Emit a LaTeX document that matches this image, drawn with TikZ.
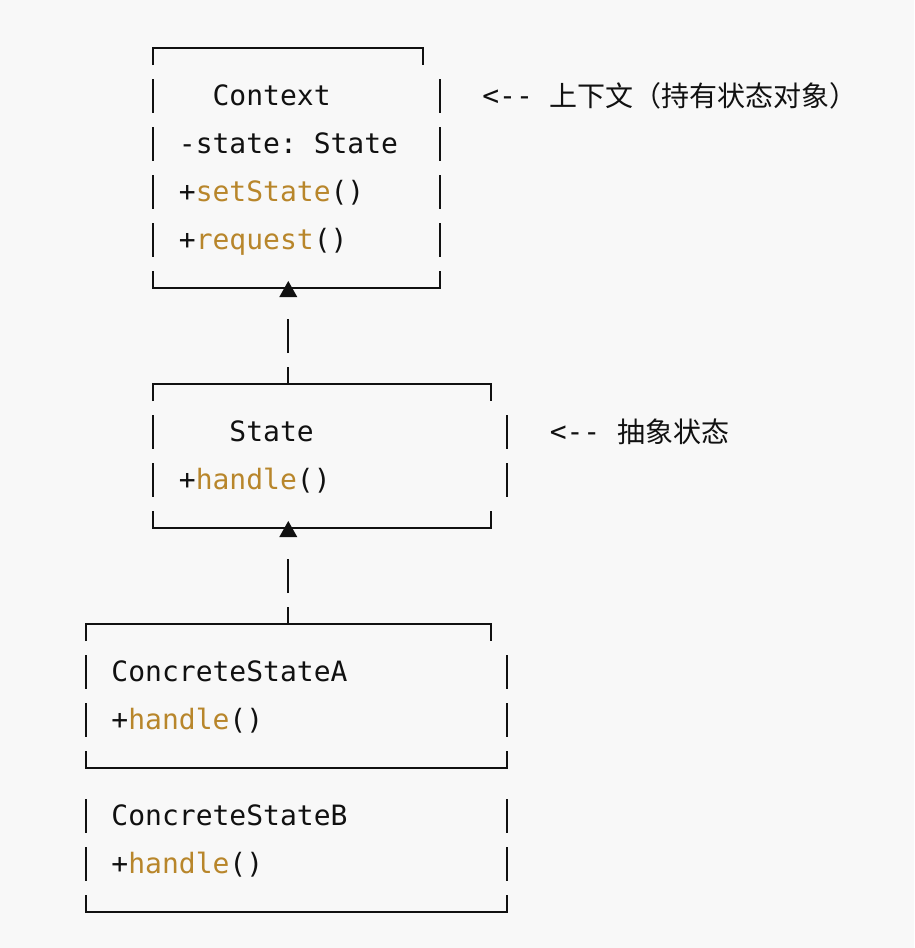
\documentclass[tikz,border=0pt]{standalone}
\usepackage{fontspec}
\setmonofont{DejaVu Sans Mono}
\newfontfamily\cjkfont{Noto Sans CJK SC}
\usetikzlibrary{arrows.meta}
\definecolor{bg}{HTML}{F8F8F8}
\definecolor{ink}{HTML}{111111}
\definecolor{gold}{HTML}{B8862B}
\begin{document}
\begin{tikzpicture}[x=1pt,y=-1pt,
  border/.style={draw=ink, line width=2pt, line join=miter},
  code/.style={font=\ttfamily\fontsize{28pt}{34pt}\selectfont, text=ink, anchor=base west, inner sep=0pt},
  cjk/.style={font=\cjkfont\fontsize{28pt}{34pt}\selectfont, text=ink, anchor=base west, inner sep=0pt},
  conn/.style={draw=ink, line width=2pt, dash pattern=on 17pt off 14pt on 34pt off 60pt,
    -{Triangle[width=18pt,length=16pt,line width=0pt]}}]
\fill[bg] (0,0) rectangle (914,948);
\useasboundingbox (0,0) rectangle (914,948);

% ---- Context box
\draw[border] (153.43,65) -- (153.43,48) -- (423.14,48) -- (423.14,65);
\foreach \y in {96,144,192,240} {
  \draw[border] (153.43,{\y-17}) -- (153.43,{\y+17});
  \draw[border] (440,{\y-17}) -- (440,{\y+17});
}
\draw[border] (153.43,271) -- (153.43,288) -- (440,288) -- (440,271);
\node[code] (ctxTitle) at (212.43,105) {Context};
\node[code] (ctxAttr) at (178.71,153) {-state: State};
\node[code] (ctxOp1) at (178.71,201) {+\textcolor{gold}{setState}()};
\node[code] (ctxOp2) at (178.71,249) {+\textcolor{gold}{request}()};
\node[code] (ctxNote) at (482.14,105) {<--};
\node[cjk] (ctxNoteCJK) at (549.57,106) {上下文（持有状态对象）};
\coordinate (ctxTip) at (288.28,281);

% ---- State box
\draw[border] (153.43,401) -- (153.43,384) -- (490.57,384) -- (490.57,401);
\foreach \y in {432,480} {
  \draw[border] (153.43,{\y-17}) -- (153.43,{\y+17});
  \draw[border] (507.43,{\y-17}) -- (507.43,{\y+17});
}
\draw[border] (153.43,511) -- (153.43,528) -- (490.57,528) -- (490.57,511);
\node[code] (stTitle) at (229.28,441) {State};
\node[code] (stOp) at (178.71,489) {+\textcolor{gold}{handle}()};
\node[code] (stNote) at (549.57,441) {<--};
\node[cjk] (stNoteCJK) at (616.99,442) {抽象状态};
\coordinate (stJoin) at (288.28,384);
\coordinate (stTip) at (288.28,521);

% ---- ConcreteStateA box
\draw[border] (86,641) -- (86,624) -- (490.57,624) -- (490.57,641);
\foreach \y in {672,720} {
  \draw[border] (86,{\y-17}) -- (86,{\y+17});
  \draw[border] (507.43,{\y-17}) -- (507.43,{\y+17});
}
\draw[border] (86,751) -- (86,768) -- (507.43,768) -- (507.43,751);
\node[code] (caTitle) at (111.29,681) {ConcreteStateA};
\node[code] (caOp) at (111.29,729) {+\textcolor{gold}{handle}()};
\coordinate (caJoin) at (288.28,624);

% ---- ConcreteStateB box
\foreach \y in {816,864} {
  \draw[border] (86,{\y-17}) -- (86,{\y+17});
  \draw[border] (507.43,{\y-17}) -- (507.43,{\y+17});
}
\draw[border] (86,895) -- (86,912) -- (507.43,912) -- (507.43,895);
\node[code] (cbTitle) at (111.29,825) {ConcreteStateB};
\node[code] (cbOp) at (111.29,873) {+\textcolor{gold}{handle}()};

% ---- connectors
\draw[conn] (stJoin) -- (ctxTip);
\draw[conn] (caJoin) -- (stTip);
\end{tikzpicture}
\end{document}
